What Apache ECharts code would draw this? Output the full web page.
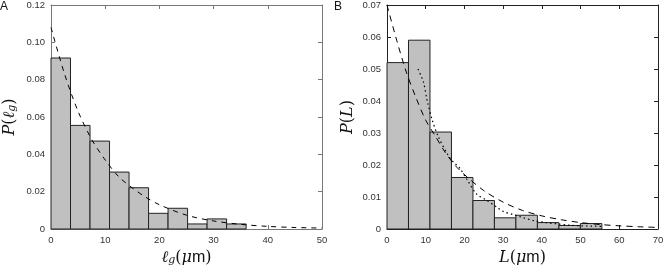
<!DOCTYPE html>
<html><head><meta charset="utf-8">
<script src="https://cdn.jsdelivr.net/npm/echarts@6/dist/echarts.min.js"></script>
<style>html,body{margin:0;padding:0;background:#fff}#c{width:664px;height:265px}</style>
</head><body><div id="c"></div>
<script>
// Panel A: gap length histogram
const binEdgesA = [0, 3.6, 7.2, 10.8, 14.4, 18.0, 21.6, 25.2, 28.8, 32.4, 36.0];
const heightsA = [0.0916, 0.0555, 0.0471, 0.0305, 0.0221, 0.0084, 0.0111, 0.0027, 0.0054, 0.0027];
const fitXA = [0, 2.5, 5, 7.5, 10, 12.5, 15, 17.5, 20, 25, 30, 35, 40, 45, 50];
const fitYA = [0.108, 0.083, 0.063, 0.048, 0.037, 0.028, 0.022, 0.017, 0.013, 0.0074, 0.0043, 0.0025, 0.0014, 0.0008, 0.0005];
const xTicksA = [0, 10, 20, 30, 40, 50];
const yTicksA = [0, 0.02, 0.04, 0.06, 0.08, 0.10, 0.12];

// Panel B: length histogram
const binEdgesB = [0, 5.55, 11.1, 16.65, 22.2, 27.75, 33.3, 38.85, 44.4, 49.95, 55.5];
const heightsB = [0.052, 0.059, 0.0303, 0.0161, 0.0089, 0.0035, 0.0043, 0.0020, 0.0011, 0.0017];
const dashXB = [0, 2.5, 5, 7.5, 10, 12.5, 15, 17.5, 20, 25, 30, 35, 40, 45, 50, 55, 60, 65, 70];
const dashYB = [0.070, 0.059, 0.049, 0.041, 0.034, 0.029, 0.024, 0.020, 0.017, 0.012, 0.0084, 0.0058, 0.0041, 0.0029, 0.0020, 0.0014, 0.0010, 0.0007, 0.0005];
const dotXB = [8, 9.4, 10.4, 11.7, 13.2, 15.8, 17.1, 18.8, 20.9, 23.1, 25.7, 28.3, 30, 32.6, 35, 38, 41, 44, 47, 50, 53, 56];
const dotYB = [0.050, 0.046, 0.040, 0.034, 0.029, 0.023, 0.021, 0.019, 0.015, 0.011, 0.009, 0.0069, 0.0055, 0.0045, 0.0036, 0.0026, 0.0020, 0.0016, 0.0012, 0.0010, 0.0009, 0.0008];
const xTicksB = [0, 10, 20, 30, 40, 50, 60, 70];
const yTicksB = [0, 0.01, 0.02, 0.03, 0.04, 0.05, 0.06, 0.07];

const chart = echarts.init(document.getElementById('c'), null, {renderer: 'canvas'});

const labelFont = {fontFamily: 'Liberation Sans, Arial, sans-serif', fontSize: 9.5, color: '#333'};
const serifIt = {fontFamily: 'DejaVu Serif, serif', fontStyle: 'italic', fontSize: 16, color: '#111'};
const richName = {
  it: Object.assign({}, serifIt),
  sub: Object.assign({}, serifIt, {fontSize: 11, padding: [5, 0, 0, 0]}),
  rm: {fontFamily: 'DejaVu Serif, serif', fontSize: 16, color: '#111'},
  sf: {fontFamily: 'Liberation Sans, Arial, sans-serif', fontSize: 16, color: '#111'}
};

function fmtY(v) { return v === 0 ? '0' : v.toFixed(2); }

function xAxes(grid, ticks, name, frameColor, gap) {
  const mn = ticks[0], mx = ticks[ticks.length - 1], iv = ticks[1] - ticks[0];
  const base = {type: 'value', gridIndex: grid, min: mn, max: mx, interval: iv,
    axisLine: {show: true, onZero: false, lineStyle: {color: frameColor, width: 1}},
    axisTick: {show: true, inside: true, length: 4, lineStyle: {color: frameColor}},
    splitLine: {show: false}};
  return [
    Object.assign({}, base, {position: 'bottom',
      axisLabel: Object.assign({margin: 6}, labelFont),
      name: name, nameLocation: 'middle', nameGap: gap,
      nameTextStyle: {rich: richName}}),
    Object.assign({}, base, {position: 'top', axisLabel: {show: false}})
  ];
}
function yAxes(grid, ticks, name, frameColor, gap) {
  const mn = ticks[0], mx = ticks[ticks.length - 1], iv = +(ticks[1] - ticks[0]).toFixed(4);
  const base = {type: 'value', gridIndex: grid, min: mn, max: mx, interval: iv,
    axisLine: {show: true, onZero: false, lineStyle: {color: frameColor, width: 1}},
    axisTick: {show: true, inside: true, length: 4, lineStyle: {color: frameColor}},
    splitLine: {show: false}};
  return [
    Object.assign({}, base, {position: 'left',
      axisLabel: Object.assign({margin: 6, formatter: fmtY}, labelFont),
      name: name, nameLocation: 'middle', nameGap: gap,
      nameTextStyle: {rich: richName}}),
    Object.assign({}, base, {position: 'right', axisLabel: {show: false}})
  ];
}

function histSeries(xi, yi, edges, heights, stroke) {
  const data = heights.map((h, i) => [edges[i], edges[i + 1], h]);
  return {
    type: 'custom', xAxisIndex: xi, yAxisIndex: yi, data: data,
    encode: {x: [0, 1], y: 2}, z: 2, silent: true,
    renderItem: function (params, api) {
      const p0 = api.coord([api.value(0), api.value(2)]);
      const p1 = api.coord([api.value(1), 0]);
      return {type: 'rect',
        shape: {x: p0[0], y: p0[1], width: p1[0] - p0[0], height: p1[1] - p0[1]},
        style: {fill: '#c0c0c0', stroke: stroke, lineWidth: 1}};
    }
  };
}
function lineSeries(xi, yi, xs, ys, dash, w) {
  return {
    type: 'line', xAxisIndex: xi, yAxisIndex: yi, z: 3, silent: true,
    data: xs.map((x, i) => [x, ys[i]]), showSymbol: false, smooth: 0.3,
    lineStyle: {color: '#000', width: w, type: dash}
  };
}

const xa = xAxes(0, xTicksA, '{it|ℓ}{sub|g}{rm|(}{it|μ}{sf|m}{rm|)}', '#777', 11)
  .concat(xAxes(1, xTicksB, '{it|L}{rm|(}{it|μ}{sf|m}{rm|)}', '#222', 17));
const ya = yAxes(0, yTicksA, '{it|P}{rm|(}{it|ℓ}{sub|g}{rm|)}', '#777', 33)
  .concat(yAxes(1, yTicksB, '{it|P}{rm|(}{it|L}{rm|)}', '#222', 31));

chart.setOption({
  animation: false,
  backgroundColor: '#fff',
  grid: [
    {left: 51, top: 5, width: 271, height: 224, outerBoundsMode: 'none', containLabel: false},
    {left: 387, top: 5, width: 271, height: 224, outerBoundsMode: 'none', containLabel: false}
  ],
  xAxis: xa,
  yAxis: ya,
  graphic: [
    {type: 'text', left: 0, top: 1, style: {text: 'A', fontFamily: 'Liberation Sans, Arial, sans-serif', fontSize: 12, fill: '#111'}},
    {type: 'text', left: 334, top: 1, style: {text: 'B', fontFamily: 'Liberation Sans, Arial, sans-serif', fontSize: 12, fill: '#111'}}
  ],
  series: [
    histSeries(0, 0, binEdgesA, heightsA, '#222'),
    lineSeries(0, 0, fitXA, fitYA, [5, 5], 1),
    histSeries(2, 2, binEdgesB, heightsB, '#222'),
    lineSeries(2, 2, dashXB, dashYB, [6, 5], 1),
    lineSeries(2, 2, dotXB, dotYB, [1.5, 3], 1.2)
  ]
});
</script>
</body></html>
